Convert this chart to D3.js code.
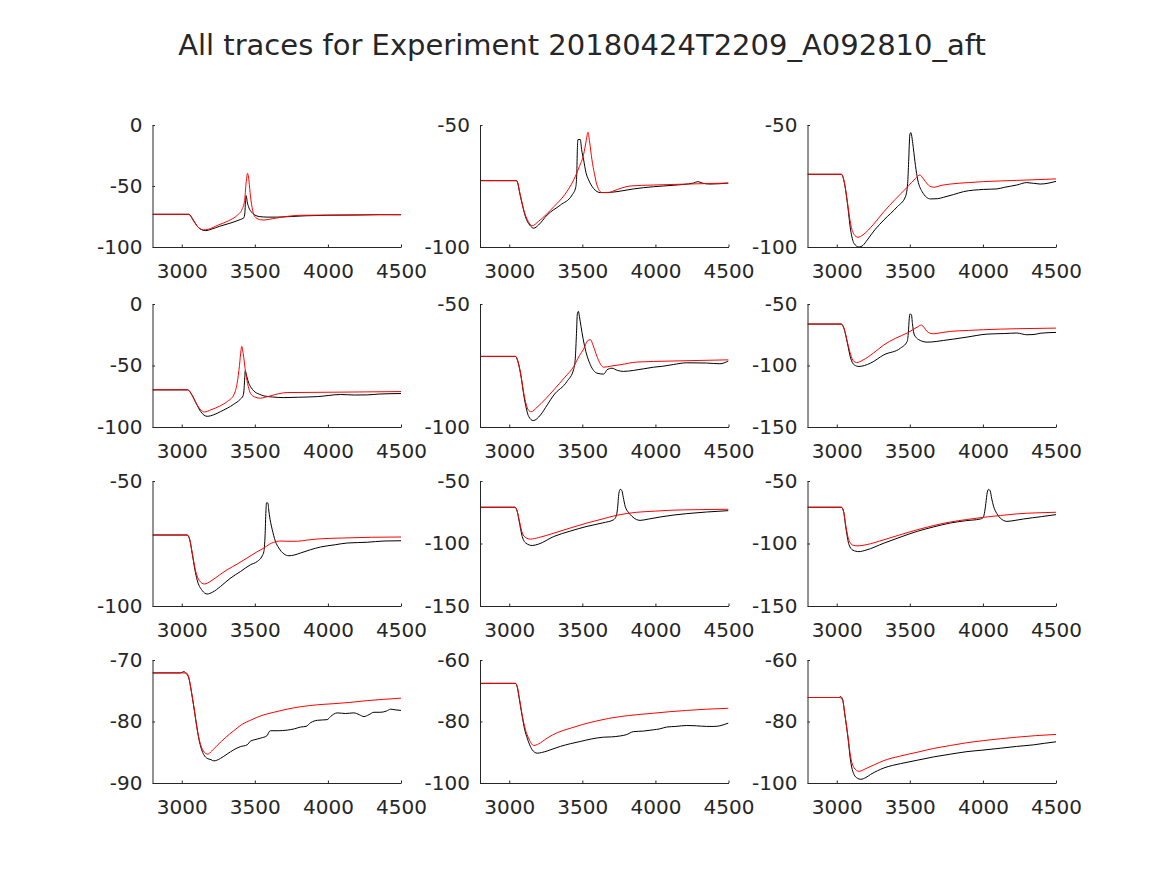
<!DOCTYPE html>
<html>
<head>
<meta charset="utf-8">
<script src="https://cdn.jsdelivr.net/npm/d3@7"></script>
<style>
  body { margin: 0; background: #fff; }
  text { font-family: "DejaVu Sans", sans-serif; fill: #262626; }
</style>
</head>
<body>
<div id="chart"></div>
<script>
// x ticks shared by all panels
var xTicks = [3000, 3500, 4000, 4500];
var xDomain = [2800, 4500];

// y ranges and ticks per panel (row by row)
var yDomains = [[-100, 0], [-100, -50], [-100, -50],
                [-100, 0], [-100, -50], [-150, -50],
                [-100, -50], [-150, -50], [-150, -50],
                [-90, -70], [-100, -60], [-100, -60]];
var yTickVals = [[-100, -50, 0], [-100, -50], [-100, -50],
                 [-100, -50, 0], [-100, -50], [-150, -100, -50],
                 [-100, -50], [-150, -100, -50], [-150, -100, -50],
                 [-90, -80, -70], [-100, -80, -60], [-100, -80, -60]];

// recorded traces (black), [time, mV]
var rec1 = [[2800,-73.2],[3048,-73.2],[3080,-78],[3110,-83.5],[3140,-86],[3165,-86.6],[3200,-85.5],[3260,-83],[3330,-80.5],[3400,-77.5],[3425,-76],[3432,-72],[3436,-63],[3441,-57.9],[3448,-63],[3460,-68],[3475,-71],[3500,-73.8],[3530,-75],[3584,-75.5],[3650,-75.5],[3750,-75],[3850,-74.4],[4000,-74],[4200,-73.8],[4350,-73.5],[4500,-73.6]];
var rec2 = [[2800,-72.8],[3050,-72.8],[3077,-79.4],[3095,-84],[3111,-87.6],[3140,-91],[3168,-92.3],[3200,-91],[3259,-86.9],[3350,-82.8],[3430,-78.7],[3455,-75.5],[3462,-70],[3466,-60],[3470,-56],[3486,-55.9],[3495,-60],[3509,-64.3],[3525,-69.5],[3543,-72.5],[3577,-76],[3623,-77.7],[3691,-77.6],[3770,-77],[3850,-76.2],[3986,-75.3],[4123,-74.7],[4260,-73.8],[4290,-73.2],[4320,-73.8],[4373,-74.2],[4500,-73.8]];
var rec3 = [[2800,-70.2],[3032,-70.2],[3050,-73],[3073,-82.1],[3095,-93],[3118,-98.5],[3152,-100],[3180,-99.3],[3209,-97.1],[3260,-93],[3323,-88.9],[3414,-83.5],[3470,-79.4],[3485,-74],[3492,-65],[3500,-54.1],[3507,-53.1],[3520,-57.5],[3535,-65],[3550,-71.2],[3584,-77.3],[3641,-80.3],[3690,-80.2],[3732,-79.6],[3800,-78.5],[3868,-77.3],[4005,-76.4],[4095,-76.2],[4150,-75.5],[4232,-74.6],[4300,-73.6],[4391,-74.2],[4500,-73.1]];
var rec4 = [[2800,-69.8],[3041,-69.8],[3070,-74],[3100,-81],[3130,-87.5],[3174,-91.3],[3220,-90],[3265,-87.5],[3356,-81.5],[3400,-77.5],[3420,-74.5],[3427,-68],[3431,-60],[3434,-54.3],[3445,-59],[3459,-64.4],[3475,-68],[3493,-70.7],[3530,-73.3],[3562,-74.7],[3620,-75.6],[3699,-76.1],[3800,-75.8],[3927,-75.3],[4087,-73.6],[4180,-74],[4269,-73.9],[4350,-73.2],[4500,-72.8]];
var rec5 = [[2800,-71.3],[3043,-71.3],[3060,-73.5],[3077,-78.1],[3105,-89],[3134,-95.8],[3164,-97.4],[3214,-95.1],[3260,-91],[3305,-87],[3395,-81.5],[3441,-76.5],[3452,-72],[3460,-62],[3466,-54],[3473,-53],[3480,-55],[3491,-59.1],[3505,-64],[3520,-68.3],[3555,-74.7],[3600,-78.1],[3645,-78.5],[3655,-78],[3668,-76.8],[3702,-76.1],[3740,-77],[3782,-77.4],[3850,-77],[3986,-75.7],[4050,-75.3],[4123,-74.6],[4214,-73.9],[4350,-74],[4441,-74.3],[4500,-73.1]];
var rec6 = [[2800,-66.3],[3032,-66.3],[3050,-70],[3073,-81.8],[3095,-94],[3120,-99.5],[3152,-100.8],[3190,-100],[3231,-98.1],[3323,-91.3],[3436,-85.9],[3482,-80.4],[3490,-73],[3496,-62],[3500,-58.2],[3511,-58.7],[3518,-66],[3527,-73.6],[3545,-77.5],[3561,-79],[3618,-81],[3680,-80.5],[3732,-79.6],[3800,-78.5],[3891,-76.9],[4027,-74.5],[4150,-74],[4232,-73.6],[4300,-75],[4350,-74.8],[4391,-73.8],[4500,-73.1]];
var rec7 = [[2800,-71.6],[3037,-71.6],[3055,-73.5],[3071,-78.8],[3090,-85.5],[3105,-89.5],[3140,-93.8],[3174,-95.2],[3210,-94.5],[3265,-92.2],[3330,-89],[3402,-86.2],[3470,-83.5],[3516,-82.2],[3550,-80],[3562,-78.2],[3570,-72],[3576,-62],[3580,-58.7],[3590,-58.9],[3596,-62],[3608,-66.5],[3619,-69.4],[3640,-74],[3664,-76.8],[3700,-79.2],[3733,-79.9],[3770,-79.6],[3813,-78.8],[3880,-77.5],[3950,-76.4],[4050,-75.5],[4132,-74.8],[4269,-74.5],[4384,-74],[4500,-73.9]];
var rec8 = [[2800,-71],[3039,-71],[3055,-74.5],[3066,-81],[3089,-94.4],[3115,-99.8],[3157,-101.6],[3200,-100.5],[3305,-94.4],[3420,-90],[3532,-86.3],[3640,-83.5],[3714,-81],[3732,-78],[3741,-72],[3750,-60],[3759,-56.7],[3770,-57.5],[3780,-63],[3793,-70.2],[3815,-75],[3839,-78.2],[3870,-80.8],[3895,-81.5],[3950,-80.5],[4032,-78.8],[4120,-77.3],[4214,-76.1],[4350,-74.8],[4500,-73.7]];
var rec9 = [[2800,-71],[3032,-71],[3048,-75],[3061,-86.3],[3084,-101],[3110,-105.3],[3152,-106.5],[3200,-105.3],[3323,-99.7],[3440,-94.7],[3550,-90.3],[3660,-86.8],[3777,-83.6],[3880,-81.8],[3982,-80.4],[4000,-79.5],[4010,-76],[4020,-68],[4030,-59],[4039,-56.7],[4050,-58],[4060,-64],[4073,-70.2],[4095,-76],[4118,-79.6],[4140,-81.5],[4164,-82.3],[4220,-81.5],[4277,-80.4],[4400,-78.5],[4500,-76.9]];
var rec10 = [[2800,-72.1],[2990,-72.1],[3002,-72],[3016,-71.9],[3030,-72.2],[3048,-72.9],[3065,-75],[3082,-77.5],[3100,-80.3],[3116,-82.7],[3135,-84.5],[3151,-85.4],[3174,-86],[3200,-86.2],[3219,-86.4],[3240,-86.3],[3265,-86],[3310,-85.3],[3356,-84.6],[3400,-84.1],[3447,-83.8],[3470,-83.2],[3493,-83],[3540,-82.7],[3584,-82.3],[3597,-81.7],[3607,-81.5],[3660,-81.5],[3721,-81.4],[3770,-81.2],[3813,-80.9],[3850,-80.8],[3881,-80.2],[3930,-79.8],[3995,-79.7],[4018,-79.2],[4040,-78.8],[4064,-78.6],[4120,-78.7],[4178,-78.6],[4215,-78.9],[4247,-79.2],[4280,-78.9],[4315,-78.5],[4361,-78.5],[4400,-78.3],[4429,-78],[4460,-78.1],[4500,-78.2]];
var rec11 = [[2800,-67.6],[3043,-67.6],[3055,-68.8],[3066,-71.8],[3089,-78.4],[3105,-82.5],[3123,-85.4],[3140,-87.6],[3157,-89.2],[3191,-90.3],[3220,-90.1],[3259,-89.6],[3300,-88.9],[3350,-88.1],[3420,-87.2],[3486,-86.5],[3560,-85.7],[3645,-85.1],[3700,-85],[3759,-84.7],[3800,-84.3],[3850,-83.3],[3920,-83.1],[3986,-82.7],[4030,-82.4],[4077,-81.8],[4140,-81.6],[4214,-81.3],[4280,-81.4],[4350,-81.6],[4400,-81.6],[4441,-81.4],[4470,-81],[4500,-80.5]];
var rec12 = [[2800,-72.2],[3000,-72.2],[3016,-72.2],[3027,-71.9],[3040,-72.8],[3055,-77.6],[3077,-85.3],[3095,-92.9],[3118,-97.2],[3140,-98.4],[3164,-98.8],[3200,-98.2],[3232,-97.2],[3280,-96],[3323,-95.1],[3380,-94.3],[3436,-93.7],[3550,-92.6],[3664,-91.5],[3780,-90.6],[3891,-89.8],[4000,-89.3],[4118,-88.7],[4230,-88.1],[4345,-87.6],[4420,-87.1],[4500,-86.6]];

// model traces (red)
var sim1 = [[2800,-73.2],[3048,-73.2],[3080,-78.5],[3110,-83.5],[3150,-86],[3180,-85.5],[3250,-82],[3320,-78.5],[3380,-74],[3413,-69],[3430,-62],[3440,-48],[3450,-39.6],[3460,-46],[3470,-58],[3485,-70],[3505,-75.7],[3540,-77.7],[3562,-77.9],[3620,-76.8],[3676,-75.7],[3750,-74.5],[3813,-74],[4000,-73.8],[4200,-73.6],[4500,-73.4]];
var sim2 = [[2800,-72.8],[3050,-72.8],[3077,-79],[3100,-85],[3130,-89.5],[3157,-91.3],[3200,-89.5],[3305,-83.5],[3380,-78.5],[3441,-72.5],[3480,-67],[3509,-62],[3525,-57],[3539,-53],[3550,-57],[3566,-64.3],[3583,-70],[3600,-74.6],[3634,-77.7],[3680,-77.7],[3714,-77],[3770,-75.8],[3827,-75],[3986,-74.6],[4214,-74.2],[4500,-73.8]];
var sim3 = [[2800,-70.2],[3032,-70.2],[3050,-73],[3073,-81.5],[3095,-90.5],[3118,-94.8],[3145,-96],[3180,-95],[3250,-90.8],[3323,-85.5],[3400,-80.5],[3482,-75.5],[3539,-71.9],[3568,-70.5],[3590,-71.8],[3607,-73.2],[3635,-75],[3664,-75.5],[3720,-74.7],[3777,-74.2],[3900,-73.6],[4005,-73.2],[4232,-72.7],[4500,-72.1]];
var sim4 = [[2800,-69.8],[3041,-69.8],[3070,-74],[3100,-81],[3130,-86],[3155,-87.8],[3200,-86],[3260,-83],[3311,-79.3],[3356,-73.9],[3379,-64.4],[3395,-50],[3405,-38],[3411,-34.5],[3420,-40],[3438,-56.3],[3455,-67],[3470,-72.6],[3500,-75.6],[3539,-76.6],[3570,-75.8],[3607,-74.7],[3660,-73],[3721,-72],[3850,-71.9],[4041,-71.7],[4500,-71.2]];
var sim5 = [[2800,-71.3],[3043,-71.3],[3060,-73.5],[3077,-78],[3105,-88],[3130,-93],[3150,-93.8],[3190,-92],[3250,-88.5],[3305,-84.9],[3380,-79.8],[3441,-75.4],[3480,-71],[3509,-68.3],[3535,-65],[3555,-64.5],[3575,-67],[3600,-71.3],[3625,-74.5],[3645,-75.7],[3700,-75.2],[3759,-74.7],[3873,-73.6],[4100,-73.2],[4500,-72.7]];
var sim6 = [[2800,-66.3],[3032,-66.3],[3050,-70],[3073,-81],[3095,-91],[3115,-96.5],[3136,-97.6],[3180,-95.5],[3250,-90],[3323,-83.2],[3400,-78],[3482,-73.6],[3550,-68.8],[3579,-67.1],[3600,-69.5],[3618,-72.3],[3640,-73.8],[3664,-74.2],[3720,-73.2],[3777,-72.3],[3900,-71.5],[4005,-70.9],[4232,-70.1],[4500,-69.6]];
var sim7 = [[2800,-71.6],[3037,-71.6],[3055,-73.5],[3071,-78.5],[3095,-86],[3120,-89.8],[3155,-91.2],[3200,-90],[3260,-87.5],[3311,-85.5],[3380,-83.2],[3447,-80.8],[3510,-78.5],[3562,-76.8],[3600,-75.3],[3630,-74.5],[3670,-74],[3721,-74.1],[3790,-74.1],[3860,-73.6],[3927,-73.2],[4100,-72.8],[4300,-72.5],[4500,-72.4]];
var sim8 = [[2800,-71],[3039,-71],[3055,-74.5],[3066,-80],[3089,-91.5],[3115,-95.5],[3145,-96.5],[3200,-95.3],[3305,-91.7],[3420,-87.5],[3532,-83.6],[3640,-80.3],[3736,-77.4],[3873,-75],[4000,-74.1],[4100,-73.4],[4300,-72.9],[4500,-72.6]];
var sim9 = [[2800,-71],[3032,-71],[3048,-75],[3061,-85],[3084,-97.5],[3110,-101.3],[3145,-101.9],[3200,-101],[3323,-97],[3440,-92.8],[3550,-89],[3660,-85.7],[3777,-82.8],[3890,-80.8],[4005,-79],[4120,-77.6],[4232,-76.3],[4360,-75.5],[4500,-75]];
var sim10 = [[2800,-72.1],[3030,-72.1],[3048,-72.8],[3065,-75],[3082,-77.5],[3100,-80.5],[3128,-83.7],[3155,-85],[3178,-85.3],[3205,-84.8],[3242,-83.9],[3300,-82.6],[3356,-81.5],[3410,-80.5],[3470,-79.8],[3550,-79],[3630,-78.5],[3720,-78],[3813,-77.6],[3920,-77.3],[4041,-77.1],[4150,-76.9],[4269,-76.6],[4380,-76.4],[4500,-76.2]];
var sim11 = [[2800,-67.6],[3043,-67.6],[3055,-68.8],[3066,-71.5],[3089,-78],[3110,-82.5],[3135,-85.7],[3168,-87.8],[3200,-87.3],[3259,-85.4],[3330,-83.6],[3418,-82.2],[3500,-81],[3600,-79.8],[3680,-79],[3759,-78.4],[3870,-77.8],[3986,-77.3],[4100,-76.8],[4214,-76.4],[4350,-76],[4500,-75.7]];
var sim12 = [[2800,-72.2],[3016,-72.2],[3040,-73],[3055,-77.5],[3077,-85],[3095,-91.5],[3118,-95],[3152,-96.2],[3200,-95.3],[3260,-94],[3323,-92.7],[3430,-91.3],[3550,-90],[3660,-88.8],[3777,-87.8],[3890,-86.9],[4005,-86.2],[4120,-85.6],[4232,-85.1],[4360,-84.6],[4500,-84.2]];

var recorded = [rec1, rec2, rec3, rec4, rec5, rec6, rec7, rec8, rec9, rec10, rec11, rec12];
var simulated = [sim1, sim2, sim3, sim4, sim5, sim6, sim7, sim8, sim9, sim10, sim11, sim12];

var W = 1167, H = 875;
var colLeft = [152.5, 480, 807.5];
var axW = 248.5;
var rowTop = [125, 304, 481, 660];
var rowBot = [247, 427, 606, 783];
var ink = "#262626";

// plain labels like matlab: "3000", "-50"
var plain = function(d) { return String(d); };

var svg = d3.select("#chart").append("svg")
  .attr("width", W)
  .attr("height", H);

svg.append("rect").attr("width", W).attr("height", H).attr("fill", "#fff");

svg.append("text")
  .attr("x", 582)
  .attr("y", 55)
  .attr("text-anchor", "middle")
  .style("font-size", "29px")
  .text("All traces for Experiment 20180424T2209_A092810_aft");

for (var i = 0; i < 12; i++) {
  var r = Math.floor(i / 3), c = i % 3;
  var x0 = colLeft[c], x1 = colLeft[c] + axW;
  var y0 = rowTop[r], y1 = rowBot[r];

  var x = d3.scaleLinear().domain(xDomain).range([x0, x1]);
  var y = d3.scaleLinear().domain(yDomains[i]).range([y1, y0]);

  var g = svg.append("g");

  g.append("clipPath").attr("id", "clip" + i)
    .append("rect")
    .attr("x", x0).attr("y", y0 - 1)
    .attr("width", axW).attr("height", y1 - y0 + 2);

  var line = d3.line()
    .x(function(d) { return x(d[0]); })
    .y(function(d) { return y(d[1]); })
    .curve(d3.curveMonotoneX);

  g.append("path")
    .datum(recorded[i])
    .attr("clip-path", "url(#clip" + i + ")")
    .attr("fill", "none")
    .attr("stroke", "#000")
    .attr("stroke-width", 1)
    .attr("d", line);

  g.append("path")
    .datum(simulated[i])
    .attr("clip-path", "url(#clip" + i + ")")
    .attr("fill", "none")
    .attr("stroke", "#ff0000")
    .attr("stroke-width", 1)
    .attr("d", line);

  // bottom axis, ticks pointing inward
  var xa = g.append("g")
    .attr("transform", "translate(0," + y1 + ")")
    .call(d3.axisBottom(x).tickValues(xTicks).tickFormat(plain)
      .tickSizeInner(-2.5).tickSizeOuter(0).tickPadding(17));
  // left axis
  var ya = g.append("g")
    .attr("transform", "translate(" + x0 + ",0)")
    .call(d3.axisLeft(y).tickValues(yTickVals[i]).tickFormat(plain)
      .tickSizeInner(-2.5).tickSizeOuter(0).tickPadding(10));

  [xa, ya].forEach(function(a) {
    a.select(".domain").attr("stroke", ink);
    a.selectAll(".tick line").attr("stroke", ink);
    a.selectAll(".tick text")
      .attr("fill", ink)
      .style("font-family", "'DejaVu Sans', sans-serif")
      .style("font-size", "20px");
  });
  ya.selectAll(".tick text").attr("x", -10);
}
</script>
</body>
</html>
